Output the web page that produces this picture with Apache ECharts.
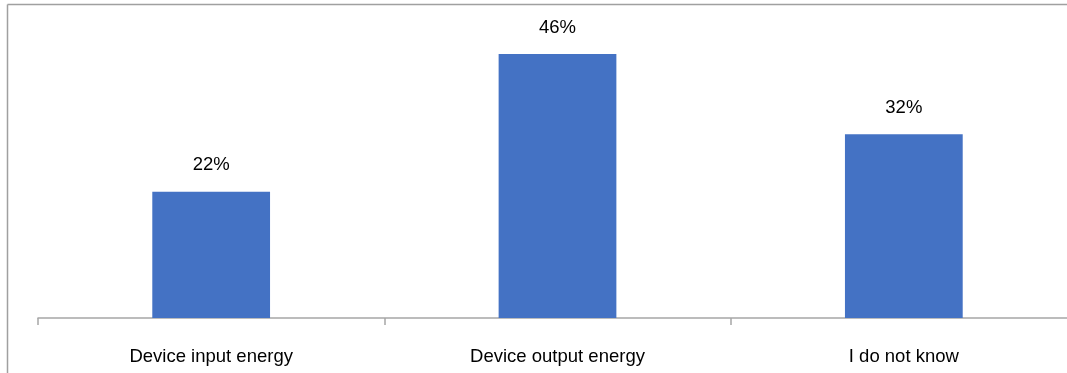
<!DOCTYPE html>
<html><head><meta charset="utf-8">
<script src="https://cdn.jsdelivr.net/npm/echarts@6/dist/echarts.min.js"></script>
<style>html,body{margin:0;padding:0;background:#fff;overflow:hidden}#c{width:1067px;height:373px}</style>
</head><body><div id="c"></div>
<script>
const categories = ["Device input energy", "Device output energy", "I do not know"];
const values = [22, 46, 32];
const chart = echarts.init(document.getElementById('c'));
chart.setOption({
  animation: false,
  graphic: [
    {type:'line', shape:{x1:7.5, y1:4.5, x2:1067, y2:4.5}, style:{stroke:'#a0a0a0', lineWidth:1.5}, silent:true},
    {type:'line', shape:{x1:7.5, y1:4.5, x2:7.5, y2:373}, style:{stroke:'#a0a0a0', lineWidth:1.5}, silent:true}
  ],
  grid: {left: 38, width: 1039, top: 31, height: 287, outerBoundsMode: 'none', containLabel: false},
  xAxis: {type:'category', data: categories,
    axisLine:{lineStyle:{color:'#a6a6a6', width:1.5}},
    axisTick:{show:true, length:7, lineStyle:{color:'#a6a6a6', width:1.5}},
    axisLabel:{color:'#000', fontSize:18.5, fontFamily:'Liberation Sans', margin:29}},
  yAxis: {type:'value', min:0, max:50, show:false, splitLine:{show:false}},
  series: [{type:'bar', data: values, barWidth:'34%', itemStyle:{color:'#4472C4'},
    label:{show:true, position:'top', distance:17, formatter:'{c}%', color:'#000', fontSize:18.5, fontFamily:'Liberation Sans'}}]
});
</script></body></html>
